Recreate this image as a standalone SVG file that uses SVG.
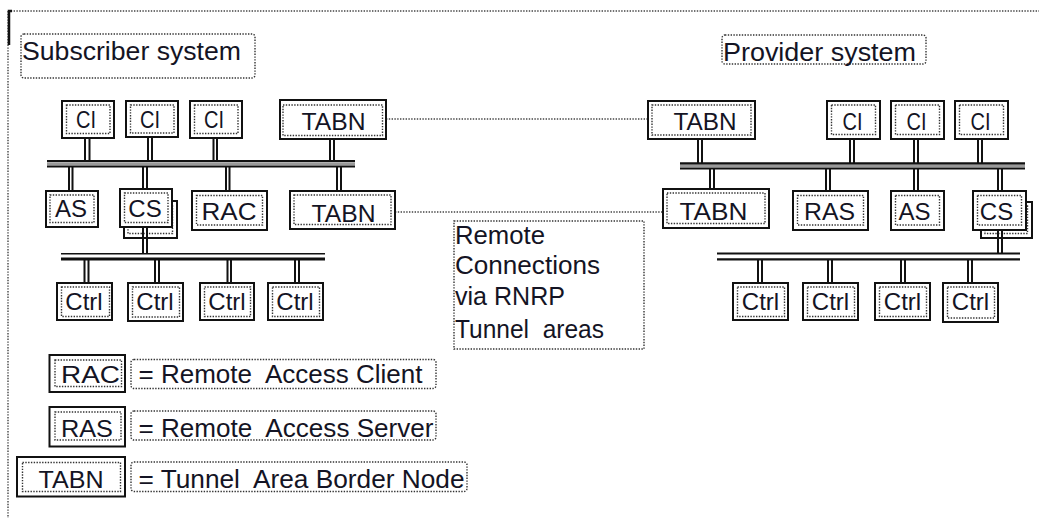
<svg xmlns="http://www.w3.org/2000/svg" width="1039" height="518" viewBox="0 0 1039 518">
  <style>
    .box { fill: #fff; stroke: #111; stroke-width: 2; }
    .lbl { fill: none; stroke: #333; stroke-width: 1.4; stroke-dasharray: 1.4 1.4; }
    .frame { fill: none; stroke: #444; stroke-width: 1.4; stroke-dasharray: 1.4 1.4; }
    .t { font-family: "Liberation Sans", Arial, sans-serif; font-size: 24px; fill: #141424; text-anchor: middle; }
    .big { font-family: "Liberation Sans", Arial, sans-serif; font-size: 25px; fill: #141424; }
    .wire { stroke: #111; stroke-width: 2; }
    .bus { stroke: #111; stroke-width: 2.2; }
    .busfill { stroke: #999; stroke-width: 3; }
    .link { stroke: #444; stroke-width: 1.4; stroke-dasharray: 1.4 1.4; fill: none; }
  </style>

  <!-- page frame -->
  <g id="frame">
    <line class="frame" x1="8" y1="11" x2="1039" y2="11"/>
    <line class="frame" x1="8" y1="11" x2="8" y2="518"/>
    <path d="M12 11 H9 V45" fill="none" stroke="#111" stroke-width="2.5"/>
  </g>

  <!-- system titles -->
  <g id="subscriber-title">
    <rect class="lbl" x="21" y="34" width="234" height="44" rx="3"/>
    <text class="big" x="22" y="60" textLength="219" lengthAdjust="spacingAndGlyphs">Subscriber system</text>
  </g>
  <g id="provider-title">
    <rect class="lbl" x="722" y="35" width="204" height="29" rx="3"/>
    <text class="big" x="723" y="61" textLength="193" lengthAdjust="spacingAndGlyphs">Provider system</text>
  </g>

  <!-- buses and connectors -->
  <g id="connectors">
    <!-- subscriber upper bus -->
    <line class="busfill" x1="47" y1="163.7" x2="355" y2="163.7"/>
    <line class="bus" x1="47" y1="161" x2="355" y2="161"/>
    <line class="bus" x1="47" y1="166.5" x2="355" y2="166.5"/>
    <!-- subscriber lower bus -->
    <line stroke="#111" stroke-width="1.6" x1="61" y1="253.8" x2="325" y2="253.8"/>
    <line stroke="#111" stroke-width="3" x1="61" y1="259" x2="325" y2="259"/>
    <!-- provider upper bus -->
    <line class="busfill" x1="680" y1="165.8" x2="1025" y2="165.8"/>
    <line class="bus" x1="680" y1="163.3" x2="1025" y2="163.3"/>
    <line class="bus" x1="680" y1="168.5" x2="1025" y2="168.5"/>
    <!-- provider lower bus -->
    <line class="bus" x1="717" y1="253.5" x2="1020" y2="253.5"/>
    <line class="bus" x1="717" y1="259.3" x2="1020" y2="259.3"/>

    <!-- subscriber drops: upper row to bus -->
    <path class="wire" d="M85 138V161M89.5 138V161 M148 137V161M152 137V161 M213.5 138V161M217 138V161 M330 139V161M334 139V161"/>
    <!-- subscriber drops: bus to middle row -->
    <path class="wire" d="M69 166V191M72.5 166V191 M143 166V189M147 166V189 M226 166V191M229.5 166V191 M337 166V191M341 166V191"/>
    <!-- subscriber drops: lower bus to controllers -->
    <path class="wire" d="M84.5 259V283M88.5 259V283 M155 259V283M159 259V283 M227.5 259V283M231 259V283 M295 259V283M299 259V283"/>

    <!-- provider drops: upper row to bus -->
    <path class="wire" d="M698 139V163M702 139V163 M850 139V163M854 139V163 M914 139V163M918 139V163 M978 139V163M982 139V163"/>
    <!-- provider drops: bus to middle row -->
    <path class="wire" d="M710 168V189M714 168V189 M826 168V191M830 168V191 M914 168V191M918 168V191 M998 168V191M1002 168V191"/>
    <!-- provider drops: lower bus to controllers -->
    <path class="wire" d="M758 259V283M762 259V283 M828 259V283M832 259V283 M901 259V283M905 259V283 M968 259V283M972 259V283"/>

    <!-- remote tunnel links -->
    <line class="link" x1="386" y1="119" x2="648" y2="119"/>
    <line class="link" x1="395" y1="212" x2="663" y2="212"/>
  </g>

  <!-- subscriber nodes -->
  <g id="sub-ci1"><rect class="box" x="62" y="101" width="52" height="37"/><rect class="lbl" x="66.5" y="105" width="43.5" height="28.5"/><text class="t" x="86" y="128" textLength="20" lengthAdjust="spacingAndGlyphs">CI</text></g>
  <g id="sub-ci2"><rect class="box" x="126" y="101" width="52" height="36"/><rect class="lbl" x="130.5" y="105" width="43.5" height="28"/><text class="t" x="150" y="128" textLength="20" lengthAdjust="spacingAndGlyphs">CI</text></g>
  <g id="sub-ci3"><rect class="box" x="190" y="101" width="52" height="37"/><rect class="lbl" x="194.5" y="105" width="43.5" height="28.5"/><text class="t" x="214" y="128" textLength="20" lengthAdjust="spacingAndGlyphs">CI</text></g>
  <g id="sub-tabn1"><rect class="box" x="280" y="100" width="106" height="39"/><rect class="lbl" x="283" y="105" width="99.5" height="30.5"/><text class="t" x="333.5" y="130" textLength="64" lengthAdjust="spacingAndGlyphs">TABN</text></g>
  <g id="sub-as"><rect class="box" x="46" y="191" width="52" height="36"/><rect class="lbl" x="50" y="195" width="44" height="27.5"/><text class="t" x="71" y="216.7">AS</text></g>
  <g id="sub-cs">
    <rect class="box" x="124" y="201" width="53" height="37"/><rect class="lbl" x="128" y="205" width="44.5" height="28.5"/>
    <rect class="box" x="120" y="189" width="52" height="38"/><rect class="lbl" x="124.5" y="193" width="43.5" height="29.5"/><text class="t" x="145" y="216.7">CS</text>
    <path class="wire" d="M143 227V253M147 227V253"/>
  </g>
  <g id="sub-rac"><rect class="box" x="192" y="191" width="75" height="39"/><rect class="lbl" x="196.5" y="195.5" width="66" height="29.5"/><text class="t" x="229" y="220" textLength="55" lengthAdjust="spacingAndGlyphs">RAC</text></g>
  <g id="sub-tabn2"><rect class="box" x="290" y="191" width="105" height="38"/><rect class="lbl" x="294" y="195" width="97" height="29.5"/><text class="t" x="343.5" y="221.5" textLength="64" lengthAdjust="spacingAndGlyphs">TABN</text></g>
  <g id="sub-ctrl1"><rect class="box" x="57" y="283" width="55" height="37"/><rect class="lbl" x="61.5" y="287" width="48" height="29.5"/><text class="t" x="84" y="310">Ctrl</text></g>
  <g id="sub-ctrl2"><rect class="box" x="128" y="283" width="55" height="38"/><rect class="lbl" x="132.5" y="287" width="47" height="30"/><text class="t" x="155" y="310">Ctrl</text></g>
  <g id="sub-ctrl3"><rect class="box" x="200" y="283" width="54" height="37"/><rect class="lbl" x="204.5" y="287" width="46" height="29.5"/><text class="t" x="227" y="310">Ctrl</text></g>
  <g id="sub-ctrl4"><rect class="box" x="268" y="283" width="55" height="37"/><rect class="lbl" x="272.5" y="287" width="47" height="29.5"/><text class="t" x="295" y="310">Ctrl</text></g>

  <!-- provider nodes -->
  <g id="prov-tabn1"><rect class="box" x="648" y="101" width="107" height="38"/><rect class="lbl" x="652" y="105" width="99" height="30"/><text class="t" x="705" y="130" textLength="63" lengthAdjust="spacingAndGlyphs">TABN</text></g>
  <g id="prov-ci1"><rect class="box" x="827" y="101" width="53" height="38"/><rect class="lbl" x="831.5" y="105" width="44" height="29.5"/><text class="t" x="852.5" y="129.5" textLength="20" lengthAdjust="spacingAndGlyphs">CI</text></g>
  <g id="prov-ci2"><rect class="box" x="891" y="101" width="53" height="38"/><rect class="lbl" x="895.5" y="105" width="44" height="29.5"/><text class="t" x="916.5" y="129.5" textLength="20" lengthAdjust="spacingAndGlyphs">CI</text></g>
  <g id="prov-ci3"><rect class="box" x="955" y="101" width="53" height="38"/><rect class="lbl" x="959.5" y="105" width="44" height="29.5"/><text class="t" x="980.5" y="129.5" textLength="20" lengthAdjust="spacingAndGlyphs">CI</text></g>
  <g id="prov-tabn2"><rect class="box" x="663" y="189" width="106" height="39"/><rect class="lbl" x="667" y="193" width="98" height="30.5"/><text class="t" x="713.5" y="220" textLength="68" lengthAdjust="spacingAndGlyphs">TABN</text></g>
  <g id="prov-ras"><rect class="box" x="793" y="191" width="75" height="39"/><rect class="lbl" x="797.5" y="195.5" width="66" height="29.5"/><text class="t" x="829.5" y="220" textLength="51" lengthAdjust="spacingAndGlyphs">RAS</text></g>
  <g id="prov-as"><rect class="box" x="891" y="191" width="53" height="39"/><rect class="lbl" x="895.5" y="195.5" width="44" height="29.5"/><text class="t" x="914.5" y="220">AS</text></g>
  <g id="prov-cs">
    <rect class="box" x="981" y="202" width="51" height="36"/><rect class="lbl" x="985" y="206" width="42.5" height="27.5"/>
    <rect class="box" x="973" y="191" width="53" height="39"/><rect class="lbl" x="977.5" y="195.5" width="44" height="29.5"/><text class="t" x="996.5" y="220">CS</text>
    <path class="wire" d="M998 230V253M1002 230V253"/>
  </g>
  <g id="prov-ctrl1"><rect class="box" x="733" y="283" width="55" height="37"/><rect class="lbl" x="737.5" y="287" width="47" height="29.5"/><text class="t" x="760.5" y="310">Ctrl</text></g>
  <g id="prov-ctrl2"><rect class="box" x="803" y="283" width="55" height="37"/><rect class="lbl" x="807.5" y="287" width="47" height="29.5"/><text class="t" x="830.5" y="310">Ctrl</text></g>
  <g id="prov-ctrl3"><rect class="box" x="875" y="283" width="55" height="37"/><rect class="lbl" x="879.5" y="287" width="47" height="29.5"/><text class="t" x="902.5" y="310">Ctrl</text></g>
  <g id="prov-ctrl4"><rect class="box" x="943" y="283" width="55" height="39"/><rect class="lbl" x="947.5" y="287" width="47" height="31"/><text class="t" x="970.5" y="310">Ctrl</text></g>

  <!-- note on the tunnel links -->
  <g id="remote-note">
    <rect class="lbl" x="454" y="221" width="190" height="128"/>
    <text class="big" x="455" y="244" textLength="90" lengthAdjust="spacingAndGlyphs">Remote</text>
    <text class="big" x="455" y="274" textLength="145" lengthAdjust="spacingAndGlyphs">Connections</text>
    <text class="big" x="455" y="305" textLength="110" lengthAdjust="spacingAndGlyphs">via RNRP</text>
    <text class="big" x="455" y="338" textLength="149" lengthAdjust="spacingAndGlyphs" xml:space="preserve">Tunnel  areas</text>
  </g>

  <!-- legend -->
  <g id="legend-rac">
    <rect class="box" x="49.5" y="355" width="75.5" height="37" stroke-width="2.6"/>
    <rect class="lbl" x="55" y="360" width="66.5" height="26.5"/>
    <text class="t" x="90.5" y="383" textLength="59" lengthAdjust="spacingAndGlyphs">RAC</text>
    <rect class="lbl" x="131" y="359.5" width="305" height="29" rx="3"/>
    <text class="big" x="138.5" y="383" textLength="284" lengthAdjust="spacingAndGlyphs" xml:space="preserve">= Remote  Access Client</text>
  </g>
  <g id="legend-ras">
    <rect class="box" x="49.5" y="407" width="75.5" height="39.5" stroke-width="2.6"/>
    <rect class="lbl" x="55" y="412" width="66" height="28"/>
    <text class="t" x="87" y="436.5" textLength="52" lengthAdjust="spacingAndGlyphs">RAS</text>
    <rect class="lbl" x="131" y="411" width="305" height="29" rx="3"/>
    <text class="big" x="138.5" y="436.5" textLength="295" lengthAdjust="spacingAndGlyphs" xml:space="preserve">= Remote  Access Server</text>
  </g>
  <g id="legend-tabn">
    <rect class="box" x="17" y="457" width="108" height="39.5" stroke-width="2.6"/>
    <rect class="lbl" x="22.5" y="462.5" width="98" height="29"/>
    <text class="t" x="71" y="488.3" textLength="65" lengthAdjust="spacingAndGlyphs">TABN</text>
    <rect class="lbl" x="131" y="462" width="336" height="29.5" rx="3"/>
    <text class="big" x="138.5" y="488.3" textLength="326" lengthAdjust="spacingAndGlyphs" xml:space="preserve">= Tunnel  Area Border Node</text>
  </g>
</svg>
